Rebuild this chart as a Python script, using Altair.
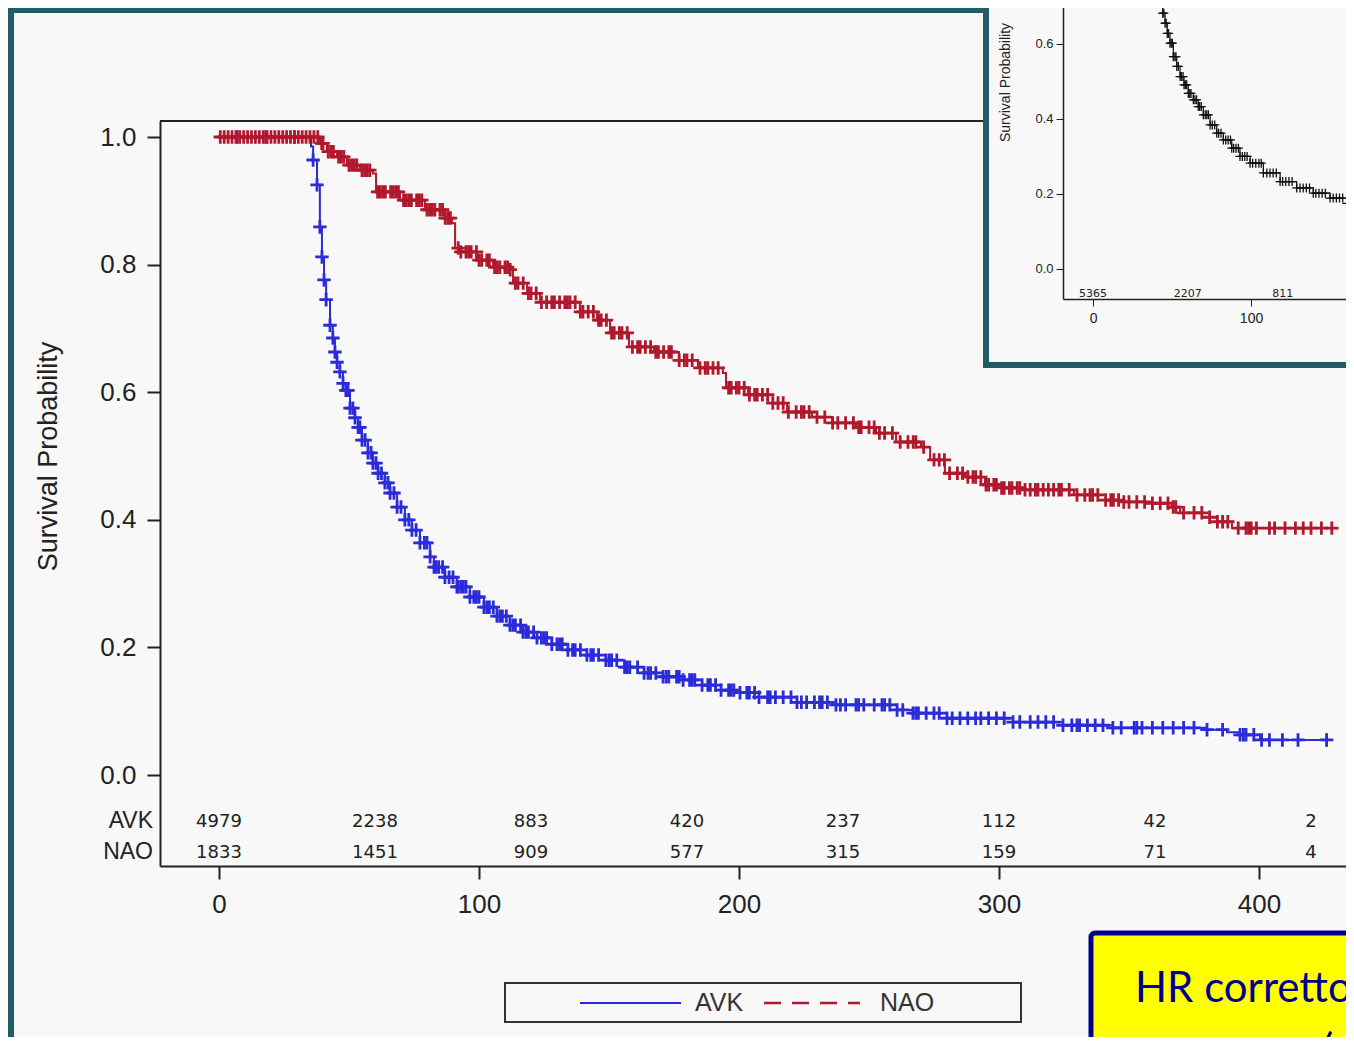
import bisect
import altair as alt
import pandas as pd

# ---------------- data ----------------
groups = ["AVK", "NAO"]
group_colors = ["#2b2bd9", "#b1182d"]

# Kaplan-Meier steps (time, survival after the step)
avk_t = [0, 35.4, 36.2, 37.7, 38.8, 39.6, 40.4, 41.2, 42.7, 43.8, 44.6, 45.4, 46.5, 47.7,
         48.8, 50.4, 52.3, 53.5, 55.0, 57.3, 59.2, 61.2, 63.8, 65.8, 68.5, 71.5, 74.2,
         77.3, 81.2, 82.7, 86.9, 91.5, 96.5, 101.9, 106.9, 111.9, 116.9, 122.3, 128.0,
         134.2, 141.5, 148.8, 156.0, 163.5, 170.8, 178.5, 185.8, 193.1, 200.4, 207.7,
         222.3, 237.3, 260.8, 266.9, 280.0, 305.4, 324.6, 343.8, 380.0, 387.7, 392.7,
         400.4, 428.5]
avk_s = [1.0, 0.985, 0.964, 0.925, 0.859, 0.812, 0.776, 0.745, 0.705, 0.685, 0.663, 0.647,
         0.632, 0.614, 0.603, 0.575, 0.560, 0.545, 0.525, 0.505, 0.489, 0.473, 0.458,
         0.442, 0.420, 0.400, 0.384, 0.364, 0.342, 0.326, 0.310, 0.295, 0.279, 0.263,
         0.249, 0.235, 0.224, 0.215, 0.205, 0.196, 0.188, 0.180, 0.169, 0.160, 0.154,
         0.149, 0.141, 0.133, 0.129, 0.122, 0.114, 0.110, 0.102, 0.097, 0.089, 0.083,
         0.078, 0.074, 0.071, 0.067, 0.063, 0.055, 0.055]

nao_t = [0, 38.8, 41.5, 45.4, 49.2, 54.2, 59.2, 60.4, 69.6, 79.2, 86.9, 89.6, 90.8, 92.7,
         99.2, 105.4, 111.9, 113.1, 118.5, 123.5, 138.8, 145.4, 150.4, 157.7, 167.3,
         176.9, 184.2, 193.8, 195.0, 203.5, 211.2, 218.5, 228.1, 235.8, 245.0, 252.7,
         260.4, 270.0, 273.5, 279.2, 286.9, 294.6, 300.4, 309.6, 328.8, 338.1, 347.7,
         357.3, 366.5, 369.6, 378.1, 383.8, 389.6, 428.5]
nao_s = [1.0, 0.990, 0.977, 0.969, 0.956, 0.948, 0.943, 0.914, 0.901, 0.886, 0.873, 0.865,
         0.826, 0.820, 0.807, 0.796, 0.792, 0.771, 0.755, 0.741, 0.726, 0.713, 0.693,
         0.671, 0.663, 0.650, 0.638, 0.630, 0.607, 0.596, 0.583, 0.569, 0.561, 0.552,
         0.545, 0.536, 0.522, 0.514, 0.494, 0.473, 0.467, 0.455, 0.450, 0.447, 0.439,
         0.431, 0.428, 0.426, 0.420, 0.411, 0.404, 0.397, 0.387, 0.387]

# censoring times (+ marks)
avk_cens = [7, 18, 29, 36.2, 37.7, 38.8, 39.6, 40.4, 41.2, 42.7, 43.8, 44.6, 45.4, 46.5,
            47.7, 48.8, 49.6, 50.4, 51.5, 52.3, 53.5, 54.2, 55.0, 56.2, 57.3, 58.5, 59.2,
            60.4, 61.2, 62.5, 63.8, 65.0, 65.8, 67.3, 68.5, 70, 71.5, 73, 74.2, 75.8,
            77.3, 79, 80, 81.2, 82.7, 83.5, 84.5, 86, 86.9, 88.5, 90, 91.5, 92, 93, 94,
            95, 96.5, 98, 99, 100, 101.9, 103, 104, 105.5, 106.9, 108, 109, 110.5, 111.9,
            113, 114, 116, 116.9, 118, 119, 121, 122.3, 124, 125, 126, 128, 130, 131, 132,
            134.2, 136, 137, 139, 141.5, 143, 144, 146, 148.8, 150, 151, 153, 156, 157,
            158, 161, 163.5, 165, 166, 168, 170.8, 172, 173, 176, 177, 178.5, 181, 182,
            183, 185.8, 188, 189, 191, 193.1, 196, 197, 198, 200.4, 203, 204, 206, 207.7,
            211, 212, 214, 217, 220, 222.3, 224, 226, 229, 231, 232, 234, 237.3, 239, 241,
            245, 246, 248, 252, 255, 256, 258, 260.8, 263, 266.9, 268, 269, 272, 275, 277,
            280, 282, 285, 288, 291, 293, 296, 299, 302, 305.4, 308, 312, 315, 318, 321,
            324.6, 328, 330, 331, 334, 337, 340, 343.8, 347, 352, 353, 355, 359, 363, 367,
            371, 375, 380, 386, 392.7, 394, 395, 398, 401, 404, 409, 415, 426]
nao_cens = [0.5, 2, 3.5, 5, 6.5, 8, 9.5, 11, 12.5, 14, 15.5, 17, 18.5, 20, 21.5, 23, 24.5,
            26, 27.5, 29, 30.5, 32, 33.5, 35, 36.5, 38,
            39.5, 40, 42, 43, 44, 46, 47, 48, 50, 51, 52, 53, 55, 56, 57, 58,
            61, 62, 63, 64, 66, 67, 68, 69, 71, 72, 73, 74, 76, 77, 78, 80, 81, 82, 83,
            85, 86, 87, 88, 89,
            92, 93, 95, 96, 97, 99, 100, 101, 103, 104, 106, 107, 108, 110, 111, 112, 114,
            115, 117, 119, 120, 122, 124, 126, 128, 129, 131, 133, 134, 135, 137, 139, 140,
            142, 144, 146, 147, 149,
            151, 152, 154, 155, 157, 159, 161, 162, 164, 166, 168, 169, 171, 173, 174, 177,
            179, 180, 182, 185, 187, 188, 190, 192, 196, 197, 199, 200,
            202, 204, 206, 207, 209, 211, 213, 215, 217, 219, 222, 224, 225, 227, 230, 233,
            236, 238, 241, 244, 246, 247, 250, 252, 254, 256, 259, 262, 265, 267, 268, 271,
            275, 277, 279, 281, 284, 286, 288, 290, 291, 293, 295, 296, 298, 299,
            301, 302, 304, 305, 307, 308, 310, 312, 314, 315, 317, 319, 321, 323, 324, 327,
            330, 333, 335, 336, 338, 341, 343, 344, 346, 348, 350, 353, 356, 359, 362, 365,
            367, 368, 371, 375, 378, 381, 384, 386, 388, 392, 395, 396, 397, 399, 404, 406,
            410, 414, 417, 420, 424, 428]

# numbers at risk
risk_times = [0, 60, 120, 180, 240, 300, 360, 420]
risk_avk = [4979, 2238, 883, 420, 237, 112, 42, 2]
risk_nao = [1833, 1451, 909, 577, 315, 159, 71, 4]

x_ticks = [0, 100, 200, 300, 400]
y_ticks = [0.0, 0.2, 0.4, 0.6, 0.8, 1.0]

# inset (pooled curve)
inset_t = [0, 42.4, 44.1, 45.6, 47.0, 48.7, 50.8, 53.0, 55.1, 57.6, 60.3, 63.5, 66.6,
           69.8, 74.1, 78.3, 82.5, 87.8, 93.0, 99.4, 107.8, 118.4, 128.9, 139.4, 150.0,
           160.6, 164.6]
inset_s = [1.0, 0.709, 0.682, 0.655, 0.628, 0.602, 0.566, 0.540, 0.513, 0.491, 0.468,
           0.451, 0.433, 0.411, 0.384, 0.362, 0.344, 0.322, 0.300, 0.282, 0.256, 0.233,
           0.216, 0.202, 0.189, 0.175, 0.171]
inset_cens = [42.5, 43.2, 44.1, 44.8, 45.6, 46.3, 47.0, 47.8, 48.7, 49.5, 50.2, 50.8, 51.8,
              52.5, 53.0, 54, 55.1, 56, 57, 57.6, 58.5, 59.3, 60.3, 61.2, 62, 63.5, 64.5,
              65.5, 66.6, 67.5, 68.5, 69.8, 71, 72, 73, 74.1, 75.5, 77, 78.3, 79.5, 81,
              82.5, 84, 85.5, 87, 87.8, 89, 90.5, 92, 93, 94.5, 96, 97.5, 99.4, 101, 103,
              105, 106.5, 107.8, 110, 112, 114, 116, 118.4, 120, 122, 124, 126, 128.9, 131,
              133, 135, 137, 139.4, 141, 143, 145, 147, 150, 152, 154, 156, 158, 160.6, 163,
              165]
inset_risk_times = [0, 60, 120]
inset_risk = [5365, 2207, 811]
inset_x_ticks = [0, 100]
inset_y_ticks = [0.0, 0.2, 0.4, 0.6]

hr_lines = ["HR corretto", "(p"]


def step_value(ts, ss, t):
    i = bisect.bisect_right(ts, t) - 1
    return ss[max(i, 0)]


def curve_df(ts, ss):
    return pd.DataFrame({"t": ts, "s": ss, "i": list(range(len(ts)))})


def cens_df(tc, ts, ss):
    return pd.DataFrame({"t": tc, "s": [step_value(ts, ss, c) for c in tc]})


# ---------------- layout / style ----------------
W, H = 1186, 745
INK = "#222222"
TEAL = "#245b69"
BG = "#f8f8f8"
FONT = "Liberation Sans"
PLUS = "M-1,0L1,0M0,-1L0,1"
one = pd.DataFrame({"k": [0]})

X_DOM = [-22.69, 433.46]
Y_DOM = [-0.1426, 1.0251]


def xs():
    return alt.Scale(domain=X_DOM, nice=False, zero=False)


def ys():
    return alt.Scale(domain=Y_DOM, nice=False, zero=False)


def xs_in():
    return alt.Scale(domain=[-19, 160.1], range=[903, 1186], nice=False, zero=False)


def ys_in():
    return alt.Scale(domain=[-0.08, 0.717], range=[178, -121], nice=False, zero=False)


x_axis = alt.Axis(values=x_ticks, title=None, grid=False, labelFont=FONT, labelFontSize=26,
                  labelColor=INK, labelPadding=12, labelFlush=False, tickSize=13, tickWidth=2,
                  tickColor=INK, domainColor=INK, domainWidth=2, orient="bottom", zindex=1)
y_axis = alt.Axis(values=y_ticks, format=".1f", title="Survival Probability", grid=False,
                  labelFont=FONT, labelFontSize=26, labelColor=INK, labelPadding=11,
                  tickSize=13, tickWidth=2, tickColor=INK, domainColor=INK, domainWidth=2,
                  titleFont=FONT, titleFontSize=27, titleFontWeight="normal", titleColor=INK,
                  titleX=-98, titleY=335, titleAngle=270, titleAlign="center",
                  titleBaseline="bottom", orient="left", zindex=1)
in_x_axis = alt.Axis(values=inset_x_ticks, title=None, orient="bottom", offset=-567,
                     grid=False, labelFont=FONT, labelFontSize=14, labelColor=INK,
                     labelPadding=5, labelFlush=False, tickSize=7, tickColor=INK,
                     domainColor=INK, domainWidth=1.5, zindex=2)
in_y_axis = alt.Axis(values=inset_y_ticks, format=".1f", title="Survival Probability",
                     orient="left", offset=-903, grid=False, labelFont=FONT,
                     labelFontSize=13, labelColor=INK, labelPadding=3, tickSize=7,
                     tickColor=INK, domainColor=INK, domainWidth=1.5, titleFont=FONT,
                     titleFontSize=14, titleFontWeight="normal", titleColor=INK,
                     titleX=-51, titleY=-39, titleAngle=270, titleAlign="center",
                     titleBaseline="bottom", zindex=2)

layers = []

# slide frame
layers.append(alt.Chart(one).mark_rect(color=TEAL).encode(
    x=alt.value(-152), x2=alt.value(-146), y=alt.value(-113), y2=alt.value(916)))
layers.append(alt.Chart(one).mark_rect(color=TEAL).encode(
    x=alt.value(-152), x2=alt.value(830), y=alt.value(-113), y2=alt.value(-108)))

# main frame top edge
layers.append(alt.Chart(one).mark_rule(color=INK, strokeWidth=2).encode(
    x=alt.value(0), x2=alt.value(W), y=alt.value(0)))


def km_line(ts, ss, col, axes):
    return alt.Chart(curve_df(ts, ss)).mark_line(
        interpolate="step-after", strokeWidth=2, color=col).encode(
        x=alt.X("t:Q", scale=xs(), axis=x_axis if axes else None),
        y=alt.Y("s:Q", scale=ys(), axis=y_axis if axes else None),
        order="i:Q")


def km_cens(tc, ts, ss, col):
    return alt.Chart(cens_df(tc, ts, ss)).mark_point(
        shape=PLUS, size=180, filled=False, strokeWidth=2.8, opacity=1, color=col).encode(
        x=alt.X("t:Q", scale=xs(), axis=None),
        y=alt.Y("s:Q", scale=ys(), axis=None))


layers += [
    km_line(avk_t, avk_s, group_colors[0], True),
    km_cens(avk_cens, avk_t, avk_s, group_colors[0]),
    km_line(nao_t, nao_s, group_colors[1], False),
    km_cens(nao_cens, nao_t, nao_s, group_colors[1]),
]

risk_df = pd.DataFrame({"t": risk_times,
                        "avk": [str(v) for v in risk_avk],
                        "nao": [str(v) for v in risk_nao]})
for field, ypix in (("avk", 706), ("nao", 737)):
    layers.append(alt.Chart(risk_df).mark_text(
        font="DejaVu Sans", fontSize=18, color=INK, baseline="alphabetic").encode(
        x=alt.X("t:Q", scale=xs(), axis=None), y=alt.value(ypix), text=f"{field}:N"))
for name, ypix in ((groups[0], 707), (groups[1], 738)):
    layers.append(alt.Chart(one).mark_text(
        font=FONT, fontSize=23, color=INK, align="right", baseline="alphabetic").encode(
        x=alt.value(-7), y=alt.value(ypix), text=alt.value(name)))

# legend
layers.append(alt.Chart(one).mark_rect(fillOpacity=0, stroke="#333333", strokeWidth=2).encode(
    x=alt.value(345), x2=alt.value(861), y=alt.value(862), y2=alt.value(901)))
layers.append(alt.Chart(one).mark_rule(color=group_colors[0], strokeWidth=2).encode(
    x=alt.value(420), x2=alt.value(521), y=alt.value(882)))
layers.append(alt.Chart(one).mark_rule(color=group_colors[1], strokeWidth=2.5,
                                       strokeDash=[17, 11]).encode(
    x=alt.value(604), x2=alt.value(700), y=alt.value(882)))
for name, xpix in ((groups[0], 535), (groups[1], 720)):
    layers.append(alt.Chart(one).mark_text(
        font=FONT, fontSize=25, color="#333333", align="left", baseline="middle").encode(
        x=alt.value(xpix), y=alt.value(882), text=alt.value(name)))

# inset
layers.append(alt.Chart(one).mark_rect(fill=BG, stroke=TEAL, strokeWidth=6).encode(
    x=alt.value(826), x2=alt.value(1300), y=alt.value(-140), y2=alt.value(244)))
layers.append(alt.Chart(curve_df(inset_t, inset_s)).mark_line(
    interpolate="step-after", strokeWidth=1.2, color="#111111").encode(
    x=alt.X("t:Q", scale=xs_in(), axis=in_x_axis),
    y=alt.Y("s:Q", scale=ys_in(), axis=in_y_axis),
    order="i:Q"))
layers.append(alt.Chart(cens_df(inset_cens, inset_t, inset_s)).mark_point(
    shape=PLUS, size=81, filled=False, strokeWidth=1.3, opacity=1, color="#111111").encode(
    x=alt.X("t:Q", scale=xs_in(), axis=None),
    y=alt.Y("s:Q", scale=ys_in(), axis=None)))
inset_risk_df = pd.DataFrame({"t": inset_risk_times, "n": [str(v) for v in inset_risk]})
layers.append(alt.Chart(inset_risk_df).mark_text(
    font="DejaVu Sans", fontSize=11, color=INK, baseline="alphabetic").encode(
    x=alt.X("t:Q", scale=xs_in(), axis=None), y=alt.value(176), text="n:N"))

# yellow HR box
layers.append(alt.Chart(one).mark_rect(fill="#ffff00", stroke="#00008f", strokeWidth=5,
                                       cornerRadius=4).encode(
    x=alt.value(931), x2=alt.value(1400), y=alt.value(812), y2=alt.value(1000)))
for txt, xpix, ypix in ((hr_lines[0], 975, 881), (hr_lines[1], 1162, 943)):
    layers.append(alt.Chart(one).mark_text(
        font="Lato", fontSize=42, color="#00008f", align="left",
        baseline="alphabetic").encode(
        x=alt.value(xpix), y=alt.value(ypix), text=alt.value(txt)))

chart = alt.layer(*layers).resolve_scale(
    x="independent", y="independent"
).properties(
    width=W, height=H,
    autosize=alt.AutoSizeParams(type="none"),
    padding={"left": 152, "top": 113, "right": 0, "bottom": 171},
    background=BG,
).configure_view(stroke=None)

chart.save("out.html", embed_options={"renderer": "svg", "actions": False})
